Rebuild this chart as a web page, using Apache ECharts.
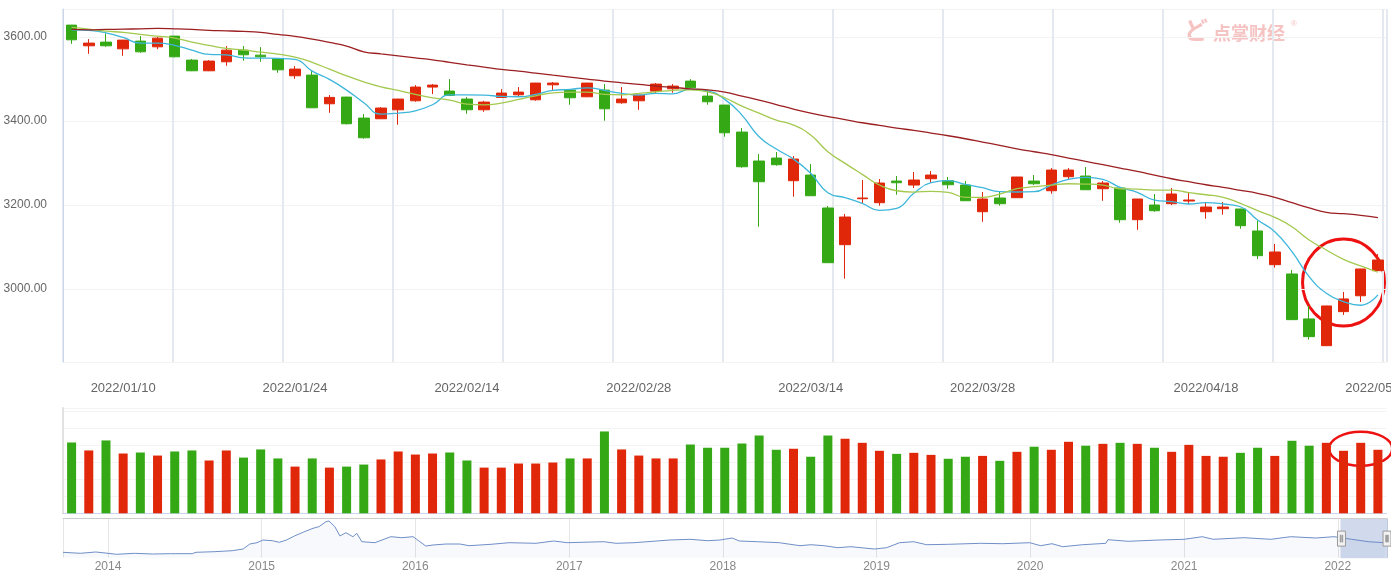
<!DOCTYPE html>
<html>
<head>
<meta charset="utf-8">
<script src="https://cdn.jsdelivr.net/npm/echarts@6/dist/echarts.min.js"></script>
<style>
html,body{margin:0;padding:0;background:#fff;}
#main{width:1391px;height:570px;}
</style>
</head>
<body>
<div id="main"></div>
<script>
// trading days shown in the window
var dates = [
  '2022/01/05','2022/01/06','2022/01/07','2022/01/10','2022/01/11','2022/01/12','2022/01/13','2022/01/14','2022/01/17','2022/01/18',
  '2022/01/19','2022/01/20','2022/01/21','2022/01/24','2022/01/25','2022/01/26','2022/01/27','2022/01/28','2022/02/07','2022/02/08',
  '2022/02/09','2022/02/10','2022/02/11','2022/02/14','2022/02/15','2022/02/16','2022/02/17','2022/02/18','2022/02/21','2022/02/22',
  '2022/02/23','2022/02/24','2022/02/25','2022/02/28','2022/03/01','2022/03/02','2022/03/03','2022/03/04','2022/03/07','2022/03/08',
  '2022/03/09','2022/03/10','2022/03/11','2022/03/14','2022/03/15','2022/03/16','2022/03/17','2022/03/18','2022/03/21','2022/03/22',
  '2022/03/23','2022/03/24','2022/03/25','2022/03/28','2022/03/29','2022/03/30','2022/03/31','2022/04/01','2022/04/06','2022/04/07',
  '2022/04/08','2022/04/11','2022/04/12','2022/04/13','2022/04/14','2022/04/15','2022/04/18','2022/04/19','2022/04/20','2022/04/21',
  '2022/04/22','2022/04/25','2022/04/26','2022/04/27','2022/04/28','2022/04/29','2022/05/05'
];
var labelDates = ['2022/01/10','2022/01/24','2022/02/14','2022/02/28','2022/03/14','2022/03/28','2022/04/18','2022/05/05'];

var opens = [
  3628.6,3579.3,3588.1,3572.1,3590.5,3576.9,3602.4,3545.2,3519.8,3541.2,
  3569.0,3557.1,3548.3,3507.9,3509.5,3441.2,3457.1,3407.1,3405.5,3426.9,
  3448.3,3481.0,3471.4,3452.4,3426.9,3456.4,3462.6,3450.7,3486.4,3473.8,
  3457.9,3473.8,3443.6,3448.3,3471.4,3476.9,3495.2,3459.5,3438.1,3373.8,
  3304.8,3311.9,3257.9,3271.4,3192.9,3105.5,3215.0,3205.5,3257.1,3247.6,
  3262.6,3257.9,3247.6,3184.0,3216.7,3217.4,3257.1,3234.0,3267.4,3269.0,
  3238.8,3240.5,3165.0,3200.0,3203.1,3209.5,3184.0,3191.2,3190.5,3138.1,
  3057.9,3035.7,2928.6,2864.9,2946.0,2983.8,3043.6
];
var closes = [
  3593.6,3585.7,3579.3,3592.9,3565.0,3597.6,3553.1,3519.8,3542.9,3569.0,
  3557.9,3553.1,3522.1,3523.8,3431.7,3456.4,3393.6,3360.2,3431.0,3452.4,
  3481.0,3485.7,3461.2,3426.9,3445.2,3466.7,3469.0,3490.5,3490.5,3455.5,
  3490.5,3429.3,3452.4,3461.9,3488.1,3483.3,3479.3,3446.0,3372.1,3291.2,
  3255.5,3296.0,3309.5,3222.1,3062.6,3171.4,3216.7,3252.4,3253.1,3259.5,
  3271.4,3248.3,3210.2,3214.3,3203.1,3266.7,3250.7,3283.3,3283.3,3236.4,
  3252.4,3165.0,3214.3,3186.4,3226.2,3211.9,3195.2,3195.2,3150.7,3079.3,
  3088.1,2926.9,2886.4,2959.5,2976.2,3047.6,3069.0
];
var lows = [
  3584.0,3560.2,3576.9,3555.5,3562.6,3571.4,3552.0,3519.0,3519.0,3531.7,
  3543.6,3541.2,3515.0,3500.7,3431.0,3419.8,3392.0,3357.9,3405.0,3391.2,
  3446.0,3464.3,3459.5,3417.4,3422.1,3456.0,3457.9,3448.3,3473.8,3438.8,
  3457.0,3400.7,3441.2,3426.9,3466.7,3467.4,3479.0,3438.8,3362.6,3288.8,
  3148.3,3293.6,3219.8,3222.0,3062.0,3024.5,3203.1,3198.3,3224.5,3240.5,
  3252.4,3238.8,3210.0,3160.2,3198.3,3217.0,3247.6,3226.9,3259.5,3236.0,
  3210.2,3157.9,3141.0,3184.0,3200.0,3202.4,3167.4,3176.9,3143.6,3071.4,
  3050.7,2926.0,2879.3,2864.0,2938.1,2969.0,3043.0
];
var highs = [
  3629.0,3595.2,3608.8,3593.0,3602.4,3600.7,3603.0,3547.6,3545.2,3578.6,
  3578.6,3576.2,3549.0,3531.0,3519.0,3461.9,3458.0,3416.7,3433.3,3453.0,
  3485.7,3488.1,3500.0,3457.1,3448.3,3476.2,3481.0,3491.0,3492.9,3474.0,
  3491.0,3488.1,3481.0,3462.0,3490.5,3488.0,3500.0,3473.8,3438.5,3383.3,
  3321.4,3326.2,3316.7,3297.6,3197.6,3178.6,3259.5,3261.9,3269.0,3278.6,
  3281.0,3266.7,3257.1,3231.0,3231.0,3267.0,3271.4,3288.1,3288.1,3290.5,
  3257.1,3241.0,3214.5,3226.2,3240.5,3231.0,3204.8,3207.1,3191.0,3162.6,
  3107.1,3045.2,2959.5,2960.0,2992.9,3048.0,3083.3
];
var ma5 = [
  3617.4,3616.0,3610.2,3599.3,3585.7,3585.7,3580.2,3569.0,3558.8,3557.9,
  3550.7,3550.0,3549.3,3546.9,3519.0,3499.3,3473.8,3443.6,3416.7,3419.1,
  3424.5,3438.8,3462.6,3462.6,3461.9,3458.8,3457.9,3463.6,3473.1,3475.5,
  3479.3,3473.1,3466.0,3461.9,3466.0,3465.0,3476.2,3472.1,3451.7,3414.3,
  3362.6,3333.3,3309.5,3275.5,3229.3,3217.4,3204.0,3187.4,3192.1,3227.9,
  3253.1,3257.9,3249.3,3241.2,3231.7,3231.0,3231.7,3247.6,3261.2,3266.0,
  3261.2,3242.1,3230.2,3211.9,3207.9,3202.4,3205.5,3202.4,3195.9,3164.3,
  3136.4,3088.8,3029.3,2989.7,2969.8,2961.2,2985.7
];
var ma10 = [
  3623.1,3619.0,3614.3,3611.2,3606.4,3602.4,3597.6,3588.1,3580.2,3573.1,
  3569.0,3564.3,3559.5,3552.4,3539.8,3523.8,3507.9,3493.6,3481.7,3473.1,
  3463.6,3455.5,3450.0,3440.5,3438.8,3442.9,3451.7,3460.2,3467.4,3469.0,
  3469.0,3463.6,3462.6,3466.0,3469.8,3473.1,3474.5,3469.8,3455.5,3435.7,
  3419.0,3402.4,3390.5,3366.7,3326.9,3299.3,3273.1,3247.6,3234.0,3230.9,
  3232.6,3230.2,3218.3,3218.3,3226.2,3238.8,3243.6,3247.6,3250.7,3250.0,
  3247.6,3238.8,3238.1,3235.7,3235.7,3229.3,3224.5,3218.3,3204.0,3186.4,
  3170.7,3148.3,3116.7,3092.9,3070.7,3054.8,3039.8
];
var ma60 = [
  3618.3,3617.4,3618.3,3619.0,3619.8,3620.7,3619.8,3618.3,3616.0,3615.0,
  3613.6,3611.2,3606.4,3601.7,3595.2,3587.4,3578.6,3565.0,3560.2,3555.5,
  3550.7,3546.0,3539.8,3534.0,3528.6,3523.1,3519.0,3514.3,3509.5,3504.8,
  3500.0,3495.2,3491.2,3487.4,3483.4,3480.2,3476.9,3474.5,3469.0,3459.5,
  3450.0,3439.3,3428.6,3419.0,3410.7,3403.6,3396.0,3389.8,3383.3,3377.8,
  3371.4,3365.0,3357.9,3350.0,3342.1,3334.0,3326.9,3319.8,3311.9,3304.0,
  3296.0,3288.1,3280.2,3271.4,3262.6,3255.5,3248.3,3242.1,3235.0,3227.9,
  3218.3,3205.5,3192.9,3182.6,3179.3,3175.5,3169.8
];
var volumes = [
  4.17,3.70,4.29,3.52,3.58,3.40,3.64,3.70,3.11,3.70,
  3.28,3.76,3.23,2.75,3.23,2.69,2.75,2.87,3.17,3.64,
  3.46,3.52,3.58,3.11,2.69,2.69,2.93,2.93,2.99,3.23,
  3.23,4.82,3.76,3.40,3.23,3.23,4.05,3.86,3.86,4.11,
  4.58,3.74,3.80,3.33,4.58,4.39,4.15,3.68,3.50,3.56,
  3.44,3.21,3.33,3.38,3.09,3.62,3.92,3.74,4.21,3.98,
  4.09,4.15,4.09,3.86,3.62,4.03,3.38,3.33,3.56,3.86,
  3.38,4.27,3.98,4.15,3.68,4.15,3.74
];

// long history for the navigator strip
var histDates = [
  '2013-09-16','2013-10-27','2013-12-03','2014-01-01','2014-01-21','2014-03-05','2014-04-17','2014-05-29','2014-07-20','2014-07-29',
  '2014-09-10','2014-10-23','2014-11-18','2014-12-04','2014-12-21','2015-01-04','2015-01-26','2015-02-12','2015-03-01','2015-03-20',
  '2015-04-11','2015-05-03','2015-05-17','2015-06-03','2015-06-10','2015-06-24','2015-07-06','2015-07-20','2015-08-06','2015-08-15',
  '2015-08-27','2015-09-27','2015-10-14','2015-11-04','2015-11-30','2015-12-27','2016-01-12','2016-01-26','2016-02-12','2016-03-14',
  '2016-04-16','2016-05-08','2016-06-29','2016-08-11','2016-10-14','2016-11-25','2016-12-27','2017-03-24','2017-04-22','2017-06-04',
  '2017-08-28','2017-10-15','2017-11-26','2017-12-25','2018-01-23','2018-02-09','2018-03-24','2018-05-15','2018-07-03','2018-07-29',
  '2018-08-29','2018-10-01','2018-11-01','2018-12-27','2019-01-25','2019-02-25','2019-03-30','2019-04-30','2019-06-21','2019-09-05',
  '2019-10-28','2019-12-31','2020-01-26','2020-02-22','2020-03-18','2020-05-05','2020-06-29','2020-07-04','2020-08-21','2020-11-02',
  '2021-01-01','2021-02-13','2021-03-11','2021-05-23','2021-07-26','2021-09-11','2021-11-10','2021-12-23','2022-02-03','2022-03-15',
  '2022-04-22'
];
var histValues = [
  2188,2094,2217,2094,2000,2094,2028,2057,2057,2188,
  2245,2339,2499,2970,3093,3347,3281,3130,3347,3724,
  4101,4449,4600,5071,5137,4600,3724,4035,3658,3978,
  3187,3093,3347,3658,3564,3658,3187,2782,2876,2970,
  2970,2810,2942,3093,3036,3253,3093,3187,3036,3093,
  3347,3413,3281,3347,3535,3253,3187,3093,2810,2904,
  2810,2622,2716,2499,2622,3093,3187,2904,2942,3036,
  2998,3093,2810,2998,2716,2904,3036,3375,3225,3347,
  3413,3658,3413,3564,3413,3658,3535,3658,3413,3187,
  3093
];

var RED = '#e0270a';
var GREEN = '#35a915';

var myChart = echarts.init(document.getElementById('main'), null, {renderer: 'canvas'});

var candleData = [];
var volumeData = [];
for (var i = 0; i < dates.length; i++) {
  candleData.push([opens[i], closes[i], lows[i], highs[i]]);
  volumeData.push({
    value: volumes[i],
    itemStyle: {color: closes[i] >= opens[i] ? RED : GREEN}
  });
}
var histData = histDates.map(function (d, i) { return [d, histValues[i]]; });

var option = {
  animation: false,
  backgroundColor: '#fff',
  textStyle: {fontFamily: 'Liberation Sans, Arial, sans-serif'},
  grid: [
    {left: 63, right: 4.5, top: 9, height: 353, outerBoundsMode: 'none', containLabel: false},
    {left: 63, right: 4.5, top: 408, height: 105.3, outerBoundsMode: 'none', containLabel: false},
    {left: 63, right: 4, top: 518.3, height: 39.4, outerBoundsMode: 'none', containLabel: false}
  ],
  xAxis: [
    {
      type: 'category', gridIndex: 0, data: dates, boundaryGap: true,
      axisLine: {show: false}, axisTick: {show: false}, splitLine: {show: false},
      axisLabel: {
        color: '#666', fontSize: 13, margin: 20,
        interval: function (idx, val) { return labelDates.indexOf(val) >= 0; }
      }
    },
    {
      // only used for the vertical guide lines of the price panel
      type: 'value', gridIndex: 0, min: 0, max: 12.032, interval: 1,
      axisLine: {show: false}, axisTick: {show: false}, axisLabel: {show: false},
      splitLine: {show: true, lineStyle: {color: '#e4e9f0', width: 2}}
    },
    {
      type: 'category', gridIndex: 1, data: dates, boundaryGap: true,
      axisLine: {show: true, lineStyle: {color: '#ccd6eb'}},
      axisTick: {show: false}, axisLabel: {show: false}, splitLine: {show: false}
    },
    {
      type: 'time', gridIndex: 2, min: '2013-09-16', max: '2022-04-28',
      minInterval: 365 * 24 * 3600 * 1000, maxInterval: 366 * 24 * 3600 * 1000,
      axisLine: {show: false}, axisTick: {show: false},
      axisLabel: {color: '#888', fontSize: 12, margin: 3, formatter: '{yyyy}'},
      splitLine: {show: true, lineStyle: {color: '#e6e6e6'}}
    },
    {
      type: 'time', gridIndex: 2, min: '2013-09-16', max: '2022-04-28', position: 'top',
      axisLine: {show: true, lineStyle: {color: '#cccccc'}},
      axisTick: {show: false}, axisLabel: {show: false}, splitLine: {show: false}
    }
  ],
  yAxis: [
    {
      type: 'value', gridIndex: 0, min: 2826, max: 3667, splitNumber: 4, scale: true,
      axisLine: {show: true, lineStyle: {color: '#ccd6eb'}},
      axisTick: {show: false},
      axisLabel: {
        color: '#666', fontSize: 12, margin: 16,
        showMinLabel: false, showMaxLabel: false,
        formatter: function (v) { return v.toFixed(2); }
      },
      splitLine: {show: true, lineStyle: {color: '#f3f3f3'}}
    },
    {
      type: 'value', gridIndex: 1, min: 0, max: 6.2, interval: 1,
      axisLine: {show: true, lineStyle: {color: '#e2e2e2', width: 2}},
      axisTick: {show: false}, axisLabel: {show: false},
      splitLine: {show: true, lineStyle: {color: '#f4f4f4'}}
    },
    {
      type: 'value', gridIndex: 2, min: 1680, max: 5391, show: false
    },
    {
      type: 'value', gridIndex: 2, min: 0, max: 1, show: false
    }
  ],
  dataZoom: [{
    type: 'slider', xAxisIndex: 4, filterMode: 'none',
    startValue: '2022-01-05', endValue: '2022-04-28',
    left: 63, right: 4, top: 518.3, height: 39.4,
    backgroundColor: 'rgba(0,0,0,0)', borderColor: 'rgba(0,0,0,0)',
    fillerColor: 'rgba(102,133,194,0.3)',
    showDataShadow: false, showDetail: false, brushSelect: false,
    moveHandleSize: 0, zoomLock: true,
    handleIcon: 'path://M0 0H8V15H0Z M2.8 4H3.4V11H2.8Z M4.6 4H5.2V11H4.6Z',
    handleSize: 15,
    handleStyle: {color: '#f2f2f2', borderColor: '#999', borderWidth: 1}
  }],
  series: [
    {
      name: 'K', type: 'candlestick', xAxisIndex: 0, yAxisIndex: 0,
      data: candleData, barWidth: 11,
      itemStyle: {color: RED, color0: GREEN, borderColor: RED, borderColor0: GREEN, borderWidth: 1}
    },
    {
      name: 'MA5', type: 'line', xAxisIndex: 0, yAxisIndex: 0, data: ma5,
      smooth: true, symbol: 'none', lineStyle: {color: '#3db6dc', width: 1.3}
    },
    {
      name: 'MA10', type: 'line', xAxisIndex: 0, yAxisIndex: 0, data: ma10,
      smooth: true, symbol: 'none', lineStyle: {color: '#a3c94f', width: 1.3}
    },
    {
      name: 'MA60', type: 'line', xAxisIndex: 0, yAxisIndex: 0, data: ma60,
      smooth: true, symbol: 'none', lineStyle: {color: '#9c1f22', width: 1.3}
    },
    {
      name: 'VOL', type: 'bar', xAxisIndex: 2, yAxisIndex: 1,
      data: volumeData, barWidth: 9
    },
    {
      name: 'history', type: 'line', xAxisIndex: 3, yAxisIndex: 2, data: histData,
      symbol: 'none', silent: true,
      lineStyle: {color: '#6f8fc8', width: 1},
      areaStyle: {color: 'rgba(51,92,173,0.05)'}
    },
    {
      name: 'anchor', type: 'line', xAxisIndex: 4, yAxisIndex: 3,
      data: [['2013-09-16', 0], ['2022-04-28', 0]],
      symbol: 'none', silent: true, lineStyle: {opacity: 0}
    }
  ],
  graphic: [
    {
      type: 'text', left: 1213, top: 24, silent: true,
      style: {text: '点掌财经', fill: '#f6c3c3', font: 'bold 18px "Noto Sans CJK SC"'}
    },
    {
      type: 'text', left: 1184, top: 18, silent: true,
      style: {text: 'ど', fill: '#f6c3c3', font: 'bold 24px "Noto Sans CJK SC"'}
    },
    {
      type: 'text', left: 1291, top: 20, silent: true,
      style: {text: '®', fill: '#f6c3c3', font: '8px sans-serif'}
    }
  ]
};

myChart.setOption(option);

// hand-drawn style red marks around the latest rebound
var c1 = myChart.convertToPixel({xAxisIndex: 0, yAxisIndex: 0}, [74.3, 3015.5]);
var c2 = myChart.convertToPixel({xAxisIndex: 2, yAxisIndex: 1}, [74.85, 3.8]);
myChart.setOption({
  graphic: [
    {
      id: 'ring1', type: 'ellipse', silent: true,
      shape: {cx: c1[0], cy: c1[1], rx: 41, ry: 43.5},
      style: {fill: 'none', stroke: '#ee1111', lineWidth: 3}
    },
    {
      id: 'ring2', type: 'ellipse', silent: true,
      shape: {cx: c2[0], cy: c2[1], rx: 31.5, ry: 17},
      style: {fill: 'none', stroke: '#ee1111', lineWidth: 2.5}
    }
  ]
});

window.addEventListener('resize', function () {
  myChart.resize();
});
</script>
</body>
</html>
